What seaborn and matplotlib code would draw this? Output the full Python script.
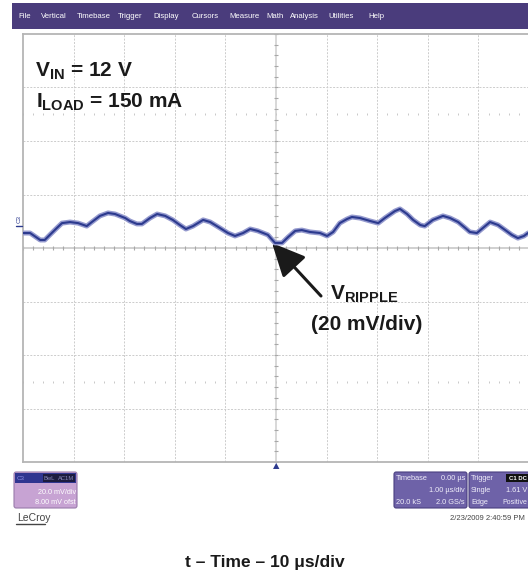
import numpy as np
import pandas as pd
import matplotlib
matplotlib.use("Agg")
import matplotlib.pyplot as plt
import matplotlib.patheffects as pe
from matplotlib.patches import Rectangle, FancyBboxPatch
import seaborn as sns

# ---- data ----
time_us = [-5.00, -4.86, -4.66, -4.57, -4.47, -4.33, -4.23, -4.07, -3.91, -3.74,
           -3.64, -3.48, -3.32, -3.18, -2.98, -2.89, -2.75, -2.65, -2.49, -2.35,
           -2.19, -2.04, -1.90, -1.78, -1.64, -1.44, -1.30, -1.11, -0.95, -0.81,
           -0.65, -0.51, -0.36, -0.16, -0.02, 0.12, 0.24, 0.38, 0.51, 0.67,
           0.87, 1.01, 1.13, 1.26, 1.40, 1.50, 1.66, 1.86, 2.02, 2.15,
           2.35, 2.45, 2.59, 2.71, 2.85, 2.94, 3.10, 3.30, 3.44, 3.60,
           3.74, 3.83, 3.97, 4.09, 4.23, 4.39, 4.53, 4.66, 4.78, 4.90, 4.98]
ripple_mv = [5.6, 5.6, 3.0, 3.0, 4.9, 7.5, 9.3, 9.7, 9.3, 8.2,
             9.7, 12.0, 13.1, 12.7, 11.2, 10.1, 9.0, 9.0, 11.2, 12.7,
             12.0, 10.5, 8.6, 7.1, 8.2, 10.5, 9.7, 7.5, 5.6, 4.5,
             5.6, 7.1, 6.4, 4.9, 1.9, 1.9, 4.1, 6.4, 6.7, 6.0,
             5.6, 4.5, 6.0, 9.3, 10.8, 11.6, 11.2, 10.1, 9.3, 11.2,
             13.8, 14.6, 12.7, 10.5, 8.6, 8.2, 10.5, 12.0, 11.2, 9.7,
             7.5, 6.0, 5.6, 7.5, 9.7, 8.6, 6.7, 4.9, 3.7, 4.5, 5.6]
menu_items = ["File", "Vertical", "Timebase", "Trigger", "Display", "Cursors",
              "Measure", "Math", "Analysis", "Utilities", "Help"]
menu_x = [18, 41, 77, 118, 153, 192, 229, 266, 290, 328, 368]

df = pd.DataFrame({"t": time_us, "v": ripple_mv})

sns.set_theme(style="white")
plt.rcParams['font.family'] = ['Liberation Sans', 'DejaVu Sans']
plt.rcParams['mathtext.fontset'] = 'custom'
plt.rcParams['mathtext.bf'] = 'Liberation Sans:bold'
plt.rcParams['mathtext.rm'] = 'Liberation Sans:bold'
plt.rcParams['mathtext.it'] = 'Liberation Sans:bold'

W, H = 528, 575
fig = plt.figure(figsize=(W / 100, H / 100), dpi=100)
fig.patch.set_facecolor("white")

def fx(x):
    return x / W

def fy(y):
    return 1 - y / H

# ---- menu bar ----
fig.patches.append(Rectangle((fx(12), fy(29)), fx(528) - fx(12), fy(3) - fy(29),
                             transform=fig.transFigure, facecolor="#4a3c7c",
                             edgecolor="none", zorder=0))
for name, x in zip(menu_items, menu_x):
    fig.text(fx(x), fy(16.5), name, color="white", fontsize=5.6, va="center",
             ha="left", family=['Liberation Sans Narrow', 'Liberation Sans'])

# ---- scope screen ----
ax = fig.add_axes([fx(23), fy(462), fx(529) - fx(23), fy(34) - fy(462)])
ax.set_xlim(-5, 5)
ax.set_ylim(-80, 80)
ax.set_xticks([]); ax.set_yticks([])
for s in ["left", "top", "bottom"]:
    ax.spines[s].set_color("#b5b5b5")
    ax.spines[s].set_linewidth(1.3)
ax.spines["right"].set_visible(False)

grid_kw = dict(color="#cccccc", lw=0.7, ls=(0, (2, 1.5)), zorder=1)
for gx in [-4, -3, -2, -1, 1, 2, 3, 4]:
    ax.axvline(gx, **grid_kw)
for gy in [-60, -40, -20, 20, 40, 60]:
    ax.axhline(gy, **grid_kw)
ax.axvline(0, color="#d2d2d2", lw=1.2, zorder=1)
ax.axhline(0, color="#c8c8c8", lw=1.2, zorder=1)
# minor ticks on centre axes
mx = np.arange(-5, 5.001, 0.2)
ax.plot(mx, np.zeros_like(mx), ls="none", marker="|", ms=3.5, mew=0.8,
        color="#a8a8a8", zorder=1)
my = np.arange(-80, 80.001, 4)
ax.plot(np.zeros_like(my), my, ls="none", marker="_", ms=3.0, mew=0.8,
        color="#a8a8a8", zorder=1)
# sparse dot rows
for yrow in [50, -50]:
    ax.plot(mx, np.full_like(mx, yrow), ls="none", marker="|", ms=1.6, mew=0.7,
            color="#c8c8c8", zorder=1)

# trace
sns.lineplot(data=df, x="t", y="v", ax=ax, color="#2c3a8e", lw=1.5, zorder=5,
             solid_joinstyle="round",
             path_effects=[pe.Stroke(linewidth=3.6, foreground="#959ace"), pe.Normal()])
ax.set_xlabel(""); ax.set_ylabel("")

# channel marker
fig.text(fx(19), fy(219), "C3", color="#2c3a8e", fontsize=4.5, ha="center",
         va="center", rotation=90)
fig.lines.append(plt.Line2D([fx(16), fx(22)], [fy(226), fy(226)],
                            transform=fig.transFigure, color="#2c3a8e", lw=1))
# trigger marker
fig.text(fx(276), fy(466), "\u25B2", color="#2c3a8e", fontsize=6, ha="center",
         va="center", family=['DejaVu Sans'])

# ---- annotations ----
fig.text(fx(35), fy(77), r"V$_{\mathbf{IN}}$ = 12 V", fontsize=15, fontweight="bold",
         color="#1a1a1a", ha="left", va="baseline")
fig.text(fx(36), fy(108), r"I$_{\mathbf{LOAD}}$ = 150 mA", fontsize=15,
         fontweight="bold", color="#1a1a1a", ha="left", va="baseline")
fig.text(fx(330), fy(300), r"V$_{\mathbf{RIPPLE}}$", fontsize=15, fontweight="bold",
         color="#1a1a1a", ha="left", va="baseline")
fig.text(fx(311), fy(330), "(20 mV/div)", fontsize=15, fontweight="bold",
         color="#1a1a1a", ha="left", va="baseline")
ax.annotate("", xy=(fx(272), fy(243)), xycoords="figure fraction",
            xytext=(fx(321), fy(296)), textcoords="figure fraction",
            arrowprops=dict(arrowstyle="-|>,head_length=1.7,head_width=0.8",
                            color="#1a1a1a", lw=2.2, shrinkA=0, shrinkB=0))

# ---- left info box ----
fig.patches.append(FancyBboxPatch((fx(14), fy(508)), fx(77) - fx(14), fy(472) - fy(508),
                                  boxstyle="round,pad=0,rounding_size=0.004",
                                  transform=fig.transFigure, facecolor="#c7a3d3",
                                  edgecolor="#9a7bab", lw=0.8))
fig.patches.append(Rectangle((fx(15), fy(483)), fx(76) - fx(15), fy(473) - fy(483),
                             transform=fig.transFigure, facecolor="#2f3590",
                             edgecolor="none"))
fig.patches.append(Rectangle((fx(43), fy(482)), fx(75) - fx(43), fy(474) - fy(482),
                             transform=fig.transFigure, facecolor="#1c1c40",
                             edgecolor="none"))
fig.text(fx(17), fy(478), "C3", color="#8c8ee0", fontsize=4.5, va="center")
fig.text(fx(44), fy(478), "BwL", color="#8888bb", fontsize=4.2, va="center")
fig.text(fx(58), fy(478), "AC1M", color="#8888bb", fontsize=4.2, va="center")
fig.text(fx(76), fy(492), "20.0 mV/div", color="white", fontsize=5.2, ha="right",
         va="center")
fig.text(fx(76), fy(502), "8.00 mV ofst", color="white", fontsize=5.2, ha="right",
         va="center")
fig.text(fx(17), fy(518), "LeCroy", color="#444444", fontsize=7.5, ha="left",
         va="center")
fig.lines.append(plt.Line2D([fx(16), fx(45)], [fy(524), fy(524)],
                            transform=fig.transFigure, color="#444444", lw=1))

# ---- right info boxes ----
for x0, x1 in [(394, 467), (469, 530)]:
    fig.patches.append(FancyBboxPatch((fx(x0), fy(508)), fx(x1) - fx(x0),
                                      fy(472) - fy(508),
                                      boxstyle="round,pad=0,rounding_size=0.004",
                                      transform=fig.transFigure, facecolor="#6e62a8",
                                      edgecolor="#4a3f80", lw=0.8))
tc = "#f0eefa"
fs = 5.3
fig.text(fx(396), fy(478), "Timebase", color=tc, fontsize=fs, va="center")
fig.text(fx(465), fy(478), "0.00 \u00b5s", color=tc, fontsize=fs, va="center", ha="right")
fig.text(fx(465), fy(490), "1.00 \u00b5s/div", color=tc, fontsize=fs, va="center", ha="right")
fig.text(fx(396), fy(502), "20.0 kS", color=tc, fontsize=fs, va="center")
fig.text(fx(465), fy(502), "2.0 GS/s", color=tc, fontsize=fs, va="center", ha="right")
fig.text(fx(471), fy(478), "Trigger", color=tc, fontsize=fs, va="center")
fig.patches.append(Rectangle((fx(506), fy(482)), fx(528) - fx(506), fy(474) - fy(482),
                             transform=fig.transFigure, facecolor="#111111",
                             edgecolor="none"))
fig.text(fx(527), fy(478), "C1 DC", color="white", fontsize=4.3, va="center",
         ha="right", fontweight="bold")
fig.text(fx(471), fy(490), "Single", color=tc, fontsize=fs, va="center")
fig.text(fx(527), fy(490), "1.61 V", color=tc, fontsize=fs, va="center", ha="right")
fig.text(fx(471), fy(502), "Edge", color=tc, fontsize=fs, va="center")
fig.text(fx(527), fy(502), "Positive", color=tc, fontsize=fs - 0.3, va="center",
         ha="right")
fig.text(fx(525), fy(518), "2/23/2009 2:40:59 PM", color="#444444", fontsize=5.5,
         ha="right", va="center")

# ---- bottom caption ----
fig.text(fx(265), fy(567), "t \u2013 Time \u2013 10 \u03bcs/div", fontsize=12.5,
         fontweight="bold", color="#1a1a1a", ha="center", va="baseline")

fig.savefig("out.png", dpi=100, facecolor="white")
